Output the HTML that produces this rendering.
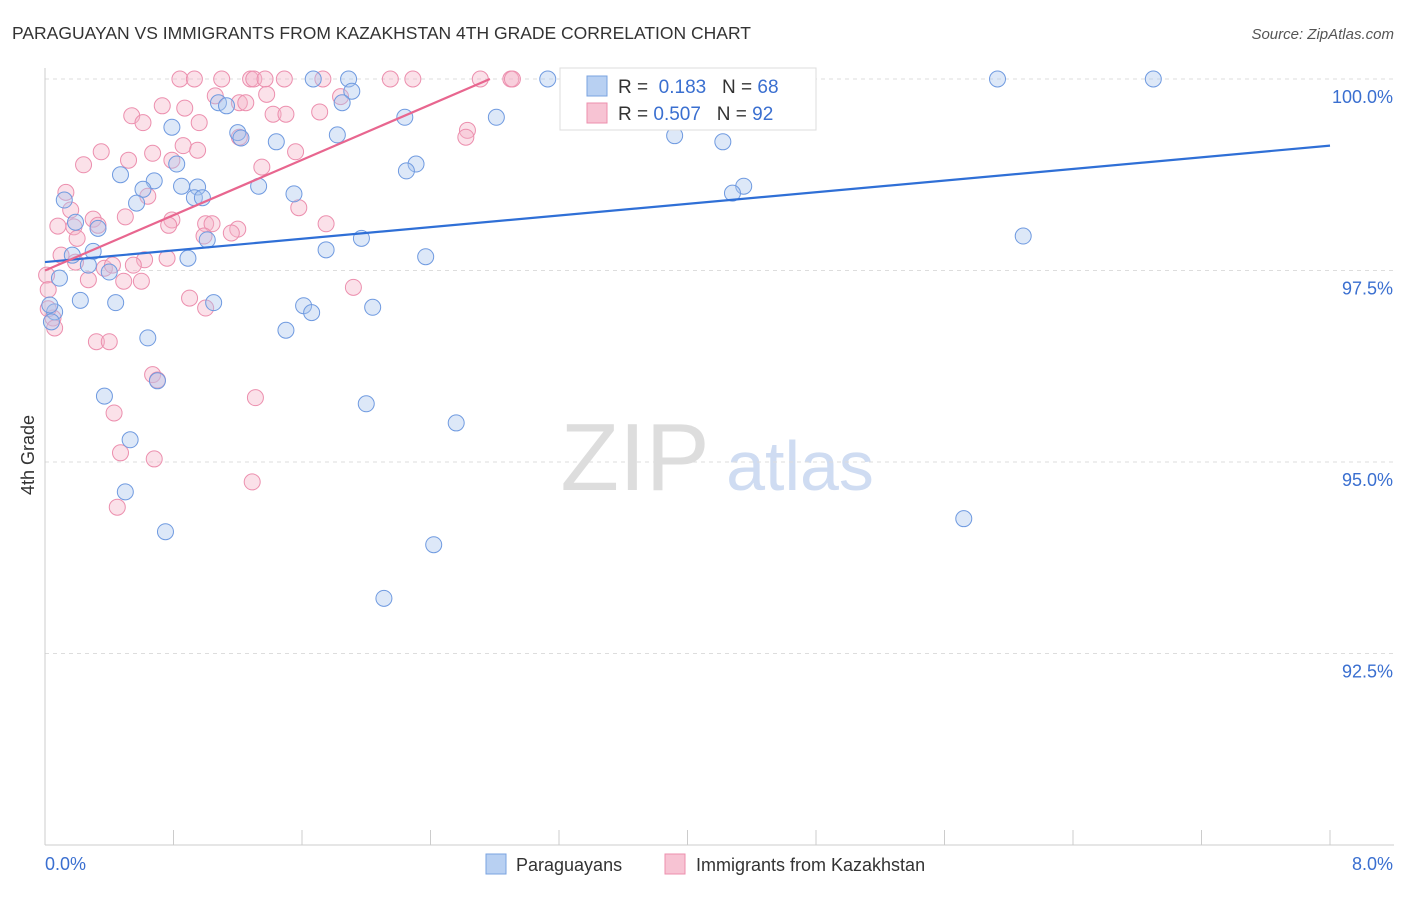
<!DOCTYPE html>
<html><head><meta charset="utf-8"><style>
body{margin:0;background:#fff;font-family:"Liberation Sans",sans-serif}
svg text{font-family:"Liberation Sans",sans-serif}
</style></head><body>
<svg id="chart" width="1406" height="892" xmlns="http://www.w3.org/2000/svg">
<text x="12" y="39" font-size="17.5" fill="#333">PARAGUAYAN VS IMMIGRANTS FROM KAZAKHSTAN 4TH GRADE CORRELATION CHART</text>
<text x="1394" y="39" font-size="15" fill="#555" font-style="italic" text-anchor="end">Source: ZipAtlas.com</text>
<text transform="translate(34,455) rotate(-90)" font-size="18" fill="#333" text-anchor="middle">4th Grade</text>
<g><text x="635" y="490" font-size="96" fill="#ddd" font-family="Liberation Serif" text-anchor="middle">ZIP</text><text x="800" y="490" font-size="70" fill="#cfdcf2" text-anchor="middle">atlas</text></g>
<g id="grid"></g><g id="axes"></g><g id="trend"></g><g id="points"></g>
<g>
<rect x="560" y="68" width="256" height="62" fill="#fff" stroke="#ddd"/>
<rect x="587" y="76" width="20" height="20" fill="#b8d0f2" stroke="#7aa3e0"/>
<rect x="587" y="103" width="20" height="20" fill="#f7c3d3" stroke="#ec8fae"/>
<text x="618" y="93" font-size="19" fill="#333">R = <tspan fill="#3a6fd0">&#160;0.183</tspan>&#160;&#160;&#160;N = <tspan fill="#3a6fd0">68</tspan></text>
<text x="618" y="120" font-size="19" fill="#333">R = <tspan fill="#3a6fd0">0.507</tspan>&#160;&#160;&#160;N = <tspan fill="#3a6fd0">92</tspan></text>
</g>
<g>
<rect x="486" y="854" width="20" height="20" fill="#b8d0f2" stroke="#7aa3e0"/>
<text x="516" y="871" font-size="18" fill="#333">Paraguayans</text>
<rect x="665" y="854" width="20" height="20" fill="#f7c3d3" stroke="#ec8fae"/>
<text x="696" y="871" font-size="18" fill="#333">Immigrants from Kazakhstan</text>
</g>
</svg>
<script>
const blueX=[1.67,1.89,3.13,5.93,6.90,1.91,1.85,1.08,1.13,0.79,2.24,2.81,1.20,1.22,1.82,1.44,3.92,4.22,0.82,2.31,2.25,0.47,0.68,0.85,0.95,0.61,1.33,1.55,4.35,4.28,0.12,0.57,0.93,0.98,0.19,0.33,1.01,1.97,6.09,0.30,1.75,0.17,0.89,2.37,0.27,0.40,0.09,0.22,0.44,1.05,1.61,1.66,2.04,0.06,0.04,1.50,0.64,0.70,0.37,2.00,2.56,0.53,0.50,5.72,0.75,2.42,2.11,0.03];
const blueY=[100,100,100,100,100,99.84,99.69,99.69,99.65,99.37,99.50,99.50,99.30,99.23,99.27,99.18,99.26,99.18,98.89,98.89,98.80,98.75,98.67,98.60,98.59,98.56,98.60,98.50,98.60,98.51,98.42,98.38,98.45,98.45,98.13,98.05,97.90,97.92,97.95,97.75,97.77,97.70,97.66,97.68,97.57,97.48,97.40,97.11,97.08,97.08,97.04,96.95,97.02,96.96,96.83,96.72,96.62,96.06,95.86,95.76,95.51,95.29,94.61,94.26,94.09,93.92,93.22,97.05];
const pinkX=[0.84,0.93,1.10,1.28,1.30,1.37,1.49,1.73,2.15,2.29,2.71,2.90,2.91,3.28,3.39,1.06,1.38,0.73,0.87,1.21,1.25,1.84,1.42,1.50,1.71,0.54,0.61,0.96,2.63,2.62,1.21,0.86,0.95,0.35,0.67,0.52,0.24,1.56,0.79,1.35,0.13,0.64,0.16,1.58,0.50,0.30,0.79,0.08,0.18,1.00,1.04,1.75,1.20,1.16,0.77,0.33,0.20,0.99,0.10,0.19,0.62,0.76,0.37,0.42,0.55,0.27,0.49,0.60,0.01,0.02,1.92,0.90,1.00,0.05,0.06,0.32,0.40,0.67,0.70,1.31,0.43,0.47,0.68,1.29,0.45,0.02];
const pinkY=[100,100,100,100,100,100,100,100,100,100,100,100,100,100,99.69,99.78,99.80,99.65,99.62,99.69,99.69,99.77,99.54,99.54,99.57,99.52,99.43,99.43,99.33,99.24,99.24,99.13,99.07,99.05,99.03,98.94,98.88,99.05,98.94,98.85,98.52,98.47,98.29,98.32,98.20,98.17,98.16,98.08,98.07,98.11,98.11,98.11,98.04,97.99,98.09,98.09,97.92,97.95,97.70,97.61,97.64,97.66,97.53,97.57,97.57,97.38,97.36,97.36,97.44,97.25,97.28,97.14,97.01,96.88,96.75,96.57,96.57,96.14,96.07,95.84,95.64,95.12,95.04,94.74,94.41,97.0];
const blueTrend=[[0,97.61],[8,99.13]];
const pinkTrend=[[0,97.50],[2.77,100]];
const yTicks=[100,97.5,95,92.5];
const yTickLabels=["100.0%","97.5%","95.0%","92.5%"];
const xTickVals=[0,0.8,1.6,2.4,3.2,4.0,4.8,5.6,6.4,7.2,8.0];
const NS="http://www.w3.org/2000/svg";
const sx=v=>45+v/8*1285;
const sy=v=>79+(100-v)*76.6;
function mk(tag,attrs,parent){const e=document.createElementNS(NS,tag);for(const k in attrs)e.setAttribute(k,attrs[k]);parent.appendChild(e);return e;}
const grid=document.getElementById('grid'),axes=document.getElementById('axes'),trend=document.getElementById('trend'),pts=document.getElementById('points');
yTicks.forEach((t,i)=>{
 const l=mk('line',{x1:45,x2:1394,y1:sy(t),y2:sy(t),stroke:'#ddd','stroke-dasharray':'4,4'},grid);
 
 
 const tx=mk('text',{x:1393,y:sy(t)+24,'font-size':18,fill:'#3a6fd0','text-anchor':'end'},axes);
 tx.textContent=yTickLabels[i];
 
 
});
const ya=mk('line',{x1:45,x2:45,y1:68,y2:845,stroke:'#ccc'},axes);


const xa=mk('line',{x1:45,x2:1394,y1:845,y2:845,stroke:'#ccc'},axes);


xTickVals.forEach(v=>{
 const t=mk('line',{x1:sx(v),x2:sx(v),y1:830,y2:845,stroke:'#ccc'},axes);
 
 
});
const xl0=mk('text',{x:45,y:870,'font-size':18,fill:'#3a6fd0'},axes);xl0.textContent='0.0%';


const xl1=mk('text',{x:1393,y:870,'font-size':18,fill:'#3a6fd0','text-anchor':'end'},axes);xl1.textContent='8.0%';


function drawPts(X,Y,fill,stroke,name){
 X.forEach((x,i)=>{
  const c=mk('circle',{cx:sx(x),cy:sy(Y[i]),r:8,fill:fill,'fill-opacity':0.4,stroke:stroke,'stroke-width':1},pts);
  
  
 });
}
drawPts(pinkX,pinkY,'#f5b3c8','#ec8fae','kazakhstan-point');
drawPts(blueX,blueY,'#a9c6ee','#6f9ae0','paraguayan-point');
const bl=mk('line',{x1:sx(blueTrend[0][0]),y1:sy(blueTrend[0][1]),x2:sx(blueTrend[1][0]),y2:sy(blueTrend[1][1]),stroke:'#2f6fd6','stroke-width':2.2},trend);


const pl=mk('line',{x1:sx(pinkTrend[0][0]),y1:sy(pinkTrend[0][1]),x2:sx(pinkTrend[1][0]),y2:sy(pinkTrend[1][1]),stroke:'#e8668f','stroke-width':2.2},trend);


document.getElementById('chart').appendChild(trend);
</script>
</body></html>
